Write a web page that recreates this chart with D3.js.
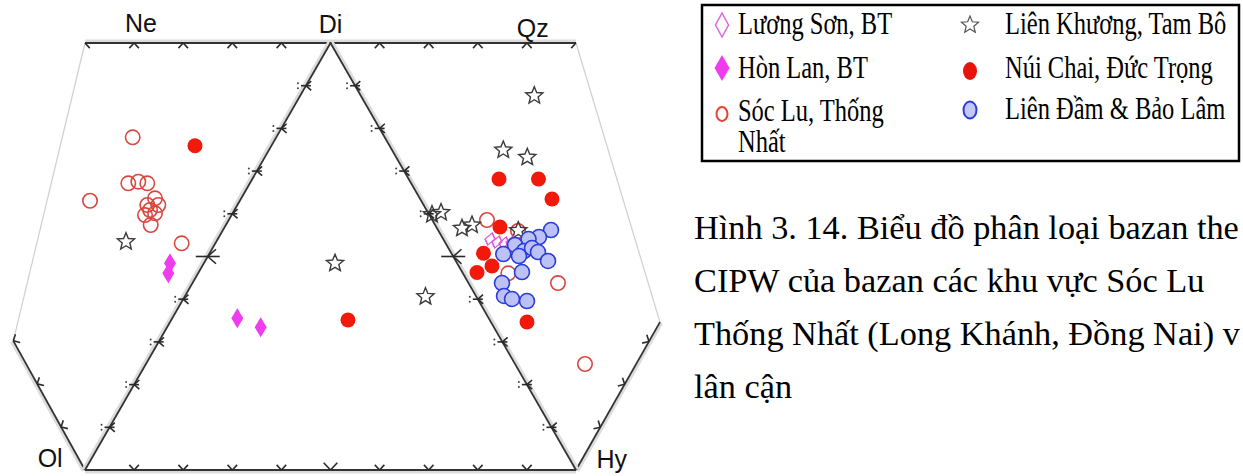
<!DOCTYPE html>
<html>
<head>
<meta charset="utf-8">
<script src="https://cdn.jsdelivr.net/npm/d3@7"></script>
<style>
  body { margin: 0; background: #fff; }
  svg { display: block; }
</style>
</head>
<body>
<svg id="chart" width="1243" height="476"></svg>
<script>
// diagram units: Ol = (0,0), Hy = (100,0), Di = (50,86.6), Ne = (0,86.6), Qz = (100,86.6)
const corners = {
  Ne: [0, 86.6], Di: [50, 86.6], Qz: [100, 86.6],
  Ol: [0, 0], Hy: [100, 0], L: [-14.6, 26.2], R: [117.1, 30]
};
const cornerLabels = [
  ["Ne", 11.4, 86.6], ["Di", 50, 86.6], ["Qz", 91.2, 86.6], ["Ol", -7.1, 0], ["Hy", 107.3, 0]
];

const socLu = [
  [9.71, 67.47], [1.02, 54.61], [8.82, 58.14], [10.86, 58.47], [12.69, 58.14],
  [14.26, 55.1], [12.69, 53.74], [14.93, 53.74], [13.24, 52.73], [12.22, 51.71],
  [14.26, 52.06], [13.38, 49.69], [19.69, 45.98], [81.87, 50.7], [86.21, 39.89],
  [96.33, 37.92], [101.83, 21.5], [88.19, 48.47]
];
const nuiChai = [
  [22.4, 65.77], [53.56, 30.42], [84.32, 59.01], [92.36, 59.01], [95.11, 54.96],
  [84.52, 49.28], [81.16, 43.95], [82.89, 41.37], [79.84, 40.05], [90.02, 30.01]
];
const lienDam = [
  [94.91, 48.67], [92.46, 47.25], [90.33, 46.85], [87.58, 45.63], [89.41, 44.41],
  [91.04, 45.02], [92.26, 44.21], [88.39, 43.4], [85.19, 43.8], [94.3, 42.39],
  [89.0, 40.15], [84.93, 37.92], [85.34, 35.29], [86.97, 34.68], [90.02, 34.27]
];
const luongSon = [[82.48, 46.85], [83.91, 46.24], [85.34, 46.04], [86.76, 46.24]];
const honLan = [[31.02, 30.76], [35.78, 28.94], [17.31, 41.92], [16.97, 39.89]];
const lienKhuong = [
  [8.35, 46.3], [50.92, 41.92], [69.35, 35.15], [91.51, 75.91], [85.19, 64.9],
  [90.08, 63.42], [70.67, 51.81], [72.51, 52.22], [76.78, 49.02], [78.82, 49.69],
  [88.25, 48.57]
];

const legendCol1 = ["Lương Sơn, BT", "Hòn Lan, BT", "Sóc Lu, Thống", "Nhất"];
const legendCol2 = ["Liên Khương, Tam Bô", "Núi Chai, Đức Trọng", "Liên Đầm & Bảo Lâm"];
// caption as it shows in the picture (cut at the right edge)
const caption = [
  "Hình 3. 14. Biểu đồ phân loại bazan the",
  "CIPW của bazan các khu vực Sóc Lu",
  "Thống Nhất (Long Khánh, Đồng Nai) v",
  "lân cận"
];

const svg = d3.select("#chart");
const x = d3.scaleLinear().domain([0, 100]).range([85, 576]);
const y = d3.scaleLinear().domain([0, 86.6]).range([470, 43]);
const px = d => [x(d[0]), y(d[1])];

function starPath(R, r) {
  let p = [];
  for (let i = 0; i < 10; i++) {
    const a = -Math.PI / 2 + i * Math.PI / 5;
    const rr = i % 2 ? r : R;
    p.push([rr * Math.cos(a), rr * Math.sin(a)]);
  }
  return "M" + p.map(q => q.join(",")).join("L") + "Z";
}
function diamond(w, h) {
  return `M0,${-h}L${w},0L0,${h}L${-w},0Z`;
}

// ---- frame ----
const frame = svg.append("g");
const centre = [330, 300];

function drawEdge(a, b, opts) {
  const p0 = px(a), p1 = px(b);
  const len = Math.hypot(p1[0] - p0[0], p1[1] - p0[1]);
  const u = [(p1[0] - p0[0]) / len, (p1[1] - p0[1]) / len];
  let n = [-u[1], u[0]];
  const mid = [(p0[0] + p1[0]) / 2, (p0[1] + p1[1]) / 2];
  if ((centre[0] - mid[0]) * n[0] + (centre[1] - mid[1]) * n[1] < 0) n = [-n[0], -n[1]];
  if (opts.faint) {
    frame.append("line").attr("x1", p0[0]).attr("y1", p0[1]).attr("x2", p1[0]).attr("y2", p1[1])
      .attr("stroke", "#cfcfcf").attr("stroke-width", 1.2);
    return;
  }
  frame.append("line")
    .attr("x1", p0[0] - n[0] * 2).attr("y1", p0[1] - n[1] * 2)
    .attr("x2", p1[0] - n[0] * 2).attr("y2", p1[1] - n[1] * 2)
    .attr("stroke", "#dcdcdc").attr("stroke-width", 3);
  frame.append("line").attr("x1", p0[0]).attr("y1", p0[1]).attr("x2", p1[0]).attr("y2", p1[1])
    .attr("stroke", "#333").attr("stroke-width", 1.8);

  const unit = len / Math.hypot(b[0] - a[0], b[1] - a[1]);
  opts.ticks.forEach(t => {
    const p = [p0[0] + u[0] * t * unit, p0[1] + u[1] * t * unit];
    const g = frame.append("g").attr("stroke", "#2a2a2a").attr("stroke-width", 1.6).attr("fill", "none");
    if (opts.inner) {
      const big = t === 50;
      const hl = big ? 12 : 5, al = big ? 11 : 7;
      g.append("path").attr("d", `M${p[0] - hl},${p[1]}L${p[0] + hl},${p[1]}`);
      g.append("path").attr("d",
        `M${p[0] + al * 0.75},${p[1] - al * 0.66}L${p[0]},${p[1]}L${p[0] + al * 0.75},${p[1] + al * 0.66}`);
      if (!big) {
        [-2.5, 2.5].forEach(dy => g.append("circle").attr("cx", p[0] - 8).attr("cy", p[1] + dy)
          .attr("r", 1).attr("fill", "#444").attr("stroke", "none"));
      }
    } else {
      const big = opts.bigAt === t;
      const L = big ? 10 : 7, ang = 0.75;
      const arm = s => [p[0] + L * (n[0] * Math.cos(ang) + s * u[0] * Math.sin(ang)),
                        p[1] + L * (n[1] * Math.cos(ang) + s * u[1] * Math.sin(ang))];
      let sides = [-1, 1];
      if (opts.halfStart && t === 0) sides = [1];
      if (opts.halfEnd && Math.abs(t - opts.end) < 0.01) sides = [-1];
      sides.forEach(s => {
        const q = arm(s);
        g.append("path").attr("d", `M${p[0]},${p[1]}L${q[0]},${q[1]}`);
      });
    }
  });
}

const tens = d3.range(10, 100, 10);
drawEdge(corners.Ne, corners.L, { faint: true });
drawEdge(corners.Qz, corners.R, { faint: true });
drawEdge(corners.Ne, corners.Qz, { ticks: [0, 10, 20, 30, 40, 60, 70, 80, 90, 100], halfStart: true, halfEnd: true, end: 100 });
drawEdge(corners.Ol, corners.Hy, { ticks: tens, bigAt: 50 });
drawEdge(corners.Ol, corners.L, { ticks: [10, 20, 30] });
drawEdge(corners.Hy, corners.R, { ticks: [10, 20, 30] });
drawEdge(corners.Ol, corners.Di, { ticks: tens, inner: true });
drawEdge(corners.Hy, corners.Di, { ticks: tens, inner: true });

frame.selectAll("text.corner").data(cornerLabels).join("text")
  .attr("class", "corner")
  .attr("x", d => x(d[1])).attr("y", (d, i) => [32, 33, 37, 467, 468][i])
  .attr("text-anchor", "middle")
  .attr("font-family", "'Liberation Sans', Arial, sans-serif")
  .attr("font-size", 25).attr("fill", "#111")
  .text(d => d[0]);

// ---- points ----
const pts = svg.append("g");
pts.selectAll("circle.soc").data(socLu).join("circle").attr("class", "soc")
  .attr("cx", d => x(d[0])).attr("cy", d => y(d[1])).attr("r", 7.2)
  .attr("fill", "none").attr("stroke", "#d9473f").attr("stroke-width", 1.6);
pts.selectAll("path.lk").data(lienKhuong).join("path").attr("class", "lk")
  .attr("transform", d => `translate(${x(d[0])},${y(d[1])})`)
  .attr("d", starPath(9, 4)).attr("fill", "none").attr("stroke", "#3a3a3a").attr("stroke-width", 1.4);
pts.selectAll("path.ls").data(luongSon).join("path").attr("class", "ls")
  .attr("transform", d => `translate(${x(d[0])},${y(d[1])}) skewX(-20)`)
  .attr("d", diamond(5, 6)).attr("fill", "none").attr("stroke", "#dd55dd").attr("stroke-width", 1.3);
pts.selectAll("path.hl").data(honLan).join("path").attr("class", "hl")
  .attr("transform", d => `translate(${x(d[0])},${y(d[1])})`)
  .attr("d", diamond(6, 10)).attr("fill", "#ee3cee");
pts.selectAll("circle.nc").data(nuiChai).join("circle").attr("class", "nc")
  .attr("cx", d => x(d[0])).attr("cy", d => y(d[1])).attr("r", 7.5)
  .attr("fill", "#f2180a");
pts.selectAll("circle.ld").data(lienDam).join("circle").attr("class", "ld")
  .attr("cx", d => x(d[0])).attr("cy", d => y(d[1])).attr("r", 7.5)
  .attr("fill", "#bcc2f5").attr("stroke", "#2b3bd9").attr("stroke-width", 1.6);

// ---- legend ----
const lg = svg.append("g");
lg.append("rect").attr("x", 702).attr("y", 5).attr("width", 537).attr("height", 156)
  .attr("fill", "#fff").attr("stroke", "#000").attr("stroke-width", 2.5);
lg.append("path").attr("transform", "translate(722,25)").attr("d", diamond(6.5, 12))
  .attr("fill", "none").attr("stroke", "#dd66dd").attr("stroke-width", 1.5);
lg.append("path").attr("transform", "translate(722,68)").attr("d", diamond(7.5, 13))
  .attr("fill", "#ee3cee");
lg.append("ellipse").attr("cx", 722).attr("cy", 114).attr("rx", 5.5).attr("ry", 7)
  .attr("fill", "none").attr("stroke", "#e8412c").attr("stroke-width", 2);
lg.append("path").attr("transform", "translate(970,25)").attr("d", starPath(9, 4))
  .attr("fill", "none").attr("stroke", "#555").attr("stroke-width", 1.2);
lg.append("ellipse").attr("cx", 970).attr("cy", 71).attr("rx", 7).attr("ry", 9).attr("fill", "#e8140c");
lg.append("ellipse").attr("cx", 970).attr("cy", 110).attr("rx", 6.5).attr("ry", 8.5)
  .attr("fill", "#c4c8f8").attr("stroke", "#2a3be0").attr("stroke-width", 2);

const serif = "'Liberation Serif', 'Times New Roman', serif";
lg.selectAll("text.c1").data(legendCol1).join("text").attr("class", "c1")
  .attr("transform", (d, i) => `translate(738,${[34, 78, 121, 152][i]}) scale(1,1.25)`)
  .attr("font-family", serif).attr("font-size", 24.5).attr("fill", "#000").text(d => d);
lg.selectAll("text.c2").data(legendCol2).join("text").attr("class", "c2")
  .attr("transform", (d, i) => `translate(1005,${[34, 78, 119][i]}) scale(1,1.25)`)
  .attr("font-family", serif).attr("font-size", 24.5).attr("fill", "#000").text(d => d);

// ---- caption ----
svg.append("g").selectAll("text").data(caption).join("text")
  .attr("x", 694).attr("y", (d, i) => 239 + i * 53)
  .attr("font-family", serif).attr("font-size", 34.3).attr("fill", "#000")
  .text(d => d);
</script>
</body>
</html>
